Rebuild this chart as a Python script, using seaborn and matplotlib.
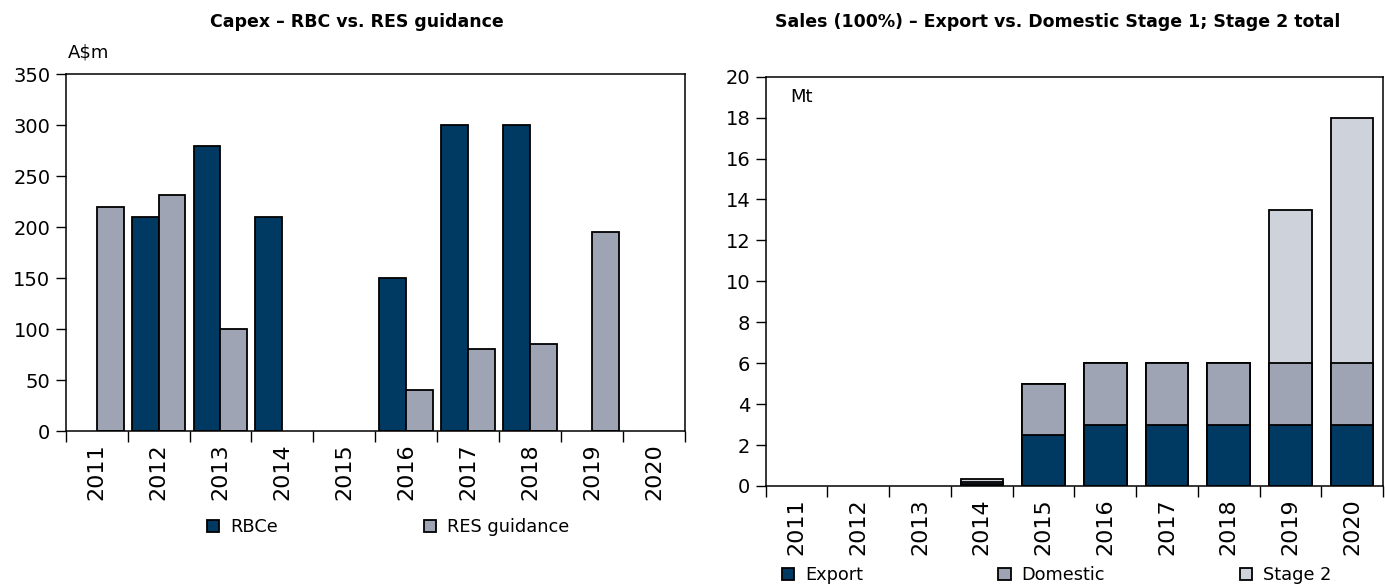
import seaborn as sns
import matplotlib.pyplot as plt
import pandas as pd
import numpy as np

# data
years = [str(y) for y in range(2011, 2021)]
rbce = [0, 210, 280, 210, 0, 150, 300, 300, 0, 0]
res_guidance = [220, 232, 100, 0, 0, 40, 80, 85, 195, 0]
export = [0, 0, 0, 0.1, 2.5, 3, 3, 3, 3, 3]
domestic = [0, 0, 0, 0.1, 2.5, 3, 3, 3, 3, 3]
stage2 = [0, 0, 0, 0.15, 0, 0, 0, 0, 7.5, 12]

navy = '#003a63'
mid = '#9ea4b3'
light = '#ced3db'

sns.set_style('ticks')
plt.rcParams['font.family'] = ['DejaVu Sans']
for k in ['text.color', 'axes.labelcolor', 'xtick.color', 'ytick.color']:
    plt.rcParams[k] = 'black'
narrow = ['Liberation Sans Narrow', 'DejaVu Sans Condensed', 'DejaVu Sans']

fig = plt.figure(figsize=(13.85, 5.88), dpi=100)
ax1 = fig.add_axes([0.0474, 0.267, 0.4472, 0.6067])
ax2 = fig.add_axes([0.5529, 0.1735, 0.4457, 0.6961])

# left: capex grouped bars (zeros are empty slots, not drawn)
capex = pd.DataFrame({'Year': years * 2,
                      'A$m': rbce + res_guidance,
                      'Series': ['RBCe'] * 10 + ['RES guidance'] * 10})
capex['A$m'] = capex['A$m'].replace(0, np.nan)
sns.barplot(data=capex, x='Year', y='A$m', hue='Series',
            hue_order=['RBCe', 'RES guidance'], palette=[navy, mid],
            saturation=1, width=0.87, edgecolor='black', linewidth=1.3, ax=ax1)

# right: stacked bars, drawn back to front
sales = pd.DataFrame({'Year': years, 'Export': export,
                      'Domestic': domestic, 'Stage 2': stage2})
sales['lvl2'] = sales['Export'] + sales['Domestic']
sales['lvl3'] = sales['lvl2'] + sales['Stage 2']
sales = sales.replace(0, np.nan)
for col, colour, name in [('lvl3', light, 'Stage 2'), ('lvl2', mid, 'Domestic'),
                          ('Export', navy, 'Export')]:
    sns.barplot(data=sales, x='Year', y=col, color=colour, saturation=1,
                width=0.69, order=years, edgecolor='black', linewidth=1.3,
                ax=ax2, label=name)

for ax, top, step in [(ax1, 350, 50), (ax2, 20, 2)]:
    ax.set_ylim(0, top)
    ax.set_xlim(-0.5, 9.5)
    ax.set_yticks(range(0, top + 1, step))
    ax.set_xticks(range(10))
    ax.set_xticklabels(years)
    ax.set_xticks([i - 0.5 for i in range(11)], minor=True)
    ax.tick_params(axis='x', which='major', length=0, pad=9)
    ax.tick_params(axis='x', which='minor', length=8, width=1, direction='out')
    ax.tick_params(axis='y', length=7, width=1, direction='out', pad=4,
                   labelsize=14)
    for lab in ax.get_xticklabels():
        lab.set_rotation(90)
        lab.set_family(narrow)
        lab.set_fontsize(16)
    for sp in ax.spines.values():
        sp.set_visible(True)
        sp.set_color('black')
        sp.set_linewidth(1.1)
    ax.set_xlabel('')
    ax.set_ylabel('')

fig.text(0.258, 0.962, 'Capex \u2013 RBC vs. RES guidance', ha='center',
         va='center', fontsize=12.5, fontweight='bold')
fig.text(0.764, 0.962, 'Sales (100%) \u2013 Export vs. Domestic Stage 1; Stage 2 total',
         ha='center', va='center', fontsize=12.5, fontweight='bold')
fig.text(68 / 1385, 1 - 52 / 588, 'A$m', ha='left', va='center', fontsize=13)
ax2.text(0.04, 0.95, 'Mt', transform=ax2.transAxes, ha='left', va='center',
         fontsize=13)

# legends
h1, l1 = ax1.get_legend_handles_labels()
ax1.legend(h1, l1, loc='center left', bbox_to_anchor=(207 / 1385, 1 - 527 / 588),
           bbox_transform=fig.transFigure, ncol=2, frameon=False, fontsize=12.8,
           handlelength=0.7, handleheight=0.7, handletextpad=0.6,
           columnspacing=8.2, borderpad=0, borderaxespad=0)
h2, l2 = ax2.get_legend_handles_labels()
order = [l2.index(n) for n in ['Export', 'Domestic', 'Stage 2']]
ax2.legend([h2[i] for i in order], [l2[i] for i in order], loc='center left',
           bbox_to_anchor=(782 / 1385, 1 - 575 / 588),
           bbox_transform=fig.transFigure, ncol=3, frameon=False, fontsize=12.8,
           handlelength=0.7, handleheight=0.7, handletextpad=0.6,
           columnspacing=7.6, borderpad=0, borderaxespad=0)

fig.savefig('out.png', dpi=100)
